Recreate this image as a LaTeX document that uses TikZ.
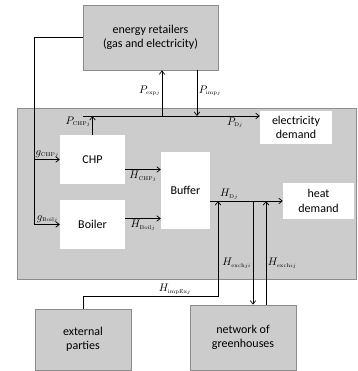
\documentclass[tikz,border=0pt]{standalone}
\usepackage{fontspec}
\setsansfont{Carlito}
\usetikzlibrary{positioning,arrows.meta}
\tikzstyle{every picture}+=[remember picture]

\begin{document}
\begin{tikzpicture}[x=1pt,y=-1pt,>={Straight Barb[length=3.5pt,width=5.5pt]},
		graybox/.style={draw=black!45, fill=black!20, line width=0.8pt, font=\sffamily\fontsize{12}{14.5}\selectfont, align=center},
		whitebox/.style={fill=white, font=\sffamily\fontsize{12}{14.5}\selectfont, align=center},
		flow/.style={line width=0.7pt},
		lbl/.style={font=\fontsize{11}{13}\selectfont, inner sep=1.5pt}]
		%\draw[help lines] (0,0) grid (357,371);
		\useasboundingbox (0,0) rectangle (357,371);
		
		\node[graybox, minimum width=339pt, minimum height=171pt] (farm) at (186.5,193.5) {};%greenhouse
		\node[graybox, minimum width=135pt, minimum height=65pt] (retail) at (150.5,37.5) {energy retailers\\(gas and electricity)};
		\node[graybox, minimum width=96pt, minimum height=61pt] (ext) at (83,339.5) {external\\parties};
		\node[graybox, minimum width=106pt, minimum height=65pt] (net) at (243,337.5) {network of\\greenhouses};
		
		\node[whitebox, minimum width=65pt, minimum height=49pt] (chp) at (92.5,159.5) {CHP};
		\node[whitebox, minimum width=65pt, minimum height=49pt] (boiler) at (92.5,224.5) {Boiler};
		\node[whitebox, minimum width=49pt, minimum height=77pt] (buffer) at (185.5,190.5) {Buffer};
		\node[whitebox, minimum width=72pt, minimum height=33pt] (elec) at (296,127.5) {electricity\\demand};
		\node[whitebox, minimum width=71pt, minimum height=36pt] (heat) at (318.5,201) {heat\\demand};
		
		%gas
		\coordinate (gbend) at ([xshift=-25pt]boiler.west);
		\draw[flow] (retail.west) -| (gbend);
		\draw[flow,->] (gbend) -- node[lbl,above] (lgboil) {$g_{\scriptscriptstyle\mathrm{Boil}j}$} (boiler.west);
		\draw[flow,->] ([xshift=-25pt]chp.west) -- node[lbl,above] (lgchp) {$g_{\scriptscriptstyle\mathrm{CHP}j}$} (chp.west);
		
		%power
		\coordinate (pbus) at (83,116);
		\coordinate (pexp) at (162,116);
		\coordinate (pimp) at (197,116);
		\draw[flow,->] (pbus) -- node[lbl,below,pos=0.86] (lpd) {$P_{\scriptscriptstyle\mathrm{D}j}$} (pbus -| elec.west);
		\draw[flow,->] (chp.north) -- node[lbl,left,pos=0.7] (lpchp) {$P_{\scriptscriptstyle\mathrm{CHP}j}$} (chp.north |- pbus);
		\draw[flow,->] (pexp) -- node[lbl,left,pos=0.55] (lpexp) {$P_{\scriptscriptstyle\mathrm{exp}j}$} (pexp |- retail.south);
		\draw[flow,->] (pimp |- retail.south) -- node[lbl,right,pos=0.45] (lpimp) {$P_{\scriptscriptstyle\mathrm{imp}j}$} (pimp);
		
		%heat
		\draw[flow,->] ([yshift=-10pt]chp.east) -- node[lbl,below] (lhchp) {$H_{\scriptscriptstyle\mathrm{CHP}j}$} ([yshift=-10pt]chp.east -| buffer.west);
		\draw[flow,->] ([yshift=6pt]boiler.east) -- node[lbl,below] (lhboil) {$H_{\scriptscriptstyle\mathrm{Boil}j}$} ([yshift=6pt]boiler.east -| buffer.west);
		\coordinate (hbus) at ([yshift=-10.5pt]buffer.east);
		\draw[flow,->] (hbus) -- node[lbl,above,pos=0.26] (lhd) {$H_{\scriptscriptstyle\mathrm{D}j}$} (hbus -| heat.west);
		
		\coordinate (himp) at (218,201);
		\coordinate (hout) at (253,201);
		\coordinate (hin) at (266,201);
		\coordinate (hbend) at (218,296);
		\draw[flow,->] (ext.north) |- (hbend) node[lbl,above,pos=0.84] (lhimp) {$H_{\scriptscriptstyle\mathrm{impEx}j}$} -- (himp);
		\draw[flow,->] (hout) -- node[lbl,left,pos=0.6] (lhji) {$H_{\scriptscriptstyle\mathrm{exch}ji}$} (net.north -| hout);
		\draw[flow,->] (net.north -| hin) -- node[lbl,right,pos=0.4] (lhij) {$H_{\scriptscriptstyle\mathrm{exch}ij}$} (hin);
\end{tikzpicture}
\end{document}
